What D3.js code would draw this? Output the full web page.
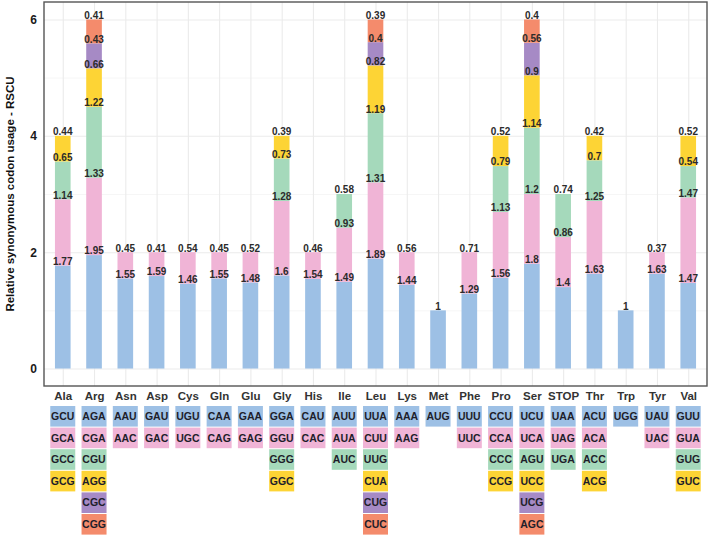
<!DOCTYPE html>
<html>
<head>
<meta charset="utf-8">
<script src="https://cdn.jsdelivr.net/npm/d3@7"></script>
<style>
  body { margin: 0; background: #fff; }
  text { font-family: "Liberation Sans", Arial, sans-serif; }
</style>
</head>
<body>
<div id="chart"></div>
<script>
const width = 709;
const height = 537;
const margin = { top: 2, right: 2, bottom: 151, left: 44 };

// amino acids, in axis order
const aminoAcids = ['Ala', 'Arg', 'Asn', 'Asp', 'Cys', 'Gln', 'Glu', 'Gly', 'His', 'Ile', 'Leu',
  'Lys', 'Met', 'Phe', 'Pro', 'Ser', 'STOP', 'Thr', 'Trp', 'Tyr', 'Val'];

// codons per amino acid, bottom of the stack first
const codons = [
  ['GCU', 'GCA', 'GCC', 'GCG'],
  ['AGA', 'CGA', 'CGU', 'AGG', 'CGC', 'CGG'],
  ['AAU', 'AAC'],
  ['GAU', 'GAC'],
  ['UGU', 'UGC'],
  ['CAA', 'CAG'],
  ['GAA', 'GAG'],
  ['GGA', 'GGU', 'GGG', 'GGC'],
  ['CAU', 'CAC'],
  ['AUU', 'AUA', 'AUC'],
  ['UUA', 'CUU', 'UUG', 'CUA', 'CUG', 'CUC'],
  ['AAA', 'AAG'],
  ['AUG'],
  ['UUU', 'UUC'],
  ['CCU', 'CCA', 'CCC', 'CCG'],
  ['UCU', 'UCA', 'AGU', 'UCC', 'UCG', 'AGC'],
  ['UAA', 'UAG', 'UGA'],
  ['ACU', 'ACA', 'ACC', 'ACG'],
  ['UGG'],
  ['UAU', 'UAC'],
  ['GUU', 'GUA', 'GUG', 'GUC']
];

// RSCU values, same order as codons
const rscu = [
  [1.77, 1.14, 0.65, 0.44],
  [1.95, 1.33, 1.22, 0.66, 0.43, 0.41],
  [1.55, 0.45],
  [1.59, 0.41],
  [1.46, 0.54],
  [1.55, 0.45],
  [1.48, 0.52],
  [1.6, 1.28, 0.73, 0.39],
  [1.54, 0.46],
  [1.49, 0.93, 0.58],
  [1.89, 1.31, 1.19, 0.82, 0.4, 0.39],
  [1.44, 0.56],
  [1],
  [1.29, 0.71],
  [1.56, 1.13, 0.79, 0.52],
  [1.8, 1.2, 1.14, 0.9, 0.56, 0.4],
  [1.4, 0.86, 0.74],
  [1.63, 1.25, 0.7, 0.42],
  [1],
  [1.63, 0.37],
  [1.47, 1.47, 0.54, 0.52]
];

const yTicks = [0, 2, 4, 6];
const colors = ['#9dc0e5', '#f0b4d6', '#a5d9bb', '#fdd435', '#a68ac5', '#f48b6c'];

const innerWidth = width - margin.left - margin.right;
const innerHeight = height - margin.top - margin.bottom;
const step = innerWidth / (aminoAcids.length - 1 + 1.2);
const barWidth = step * 0.5;
const boxWidth = 25;
const boxHeight = 20.6;
const boxPitch = 21.6;
const font = '"Liberation Sans", Arial, sans-serif';

const svg = d3.select('#chart').append('svg')
  .attr('width', width)
  .attr('height', height);

svg.append('rect').attr('width', width).attr('height', height).attr('fill', '#fff');

const g = svg.append('g').attr('transform', `translate(${margin.left}, ${margin.top})`);

const x = d3.scalePoint()
  .domain(aminoAcids)
  .range([0.6 * step, innerWidth - 0.6 * step]);

const y = d3.scaleLinear()
  .domain([-0.3, 6.3])
  .range([innerHeight, 0]);

// minor gridlines
g.append('g')
  .call(d3.axisLeft(y).tickValues([1, 3, 5]).tickSize(-innerWidth).tickFormat(''))
  .call(a => a.select('.domain').remove())
  .call(a => a.selectAll('line').attr('stroke', '#f4f4f4').attr('stroke-width', 0.8));

// major gridlines
g.append('g')
  .call(d3.axisLeft(y).tickValues(yTicks).tickSize(-innerWidth).tickFormat(''))
  .call(a => a.select('.domain').remove())
  .call(a => a.selectAll('line').attr('stroke', '#ebebeb').attr('stroke-width', 1.1));

g.append('g')
  .attr('transform', `translate(0, ${innerHeight})`)
  .call(d3.axisBottom(x).tickSize(-innerHeight).tickFormat(''))
  .call(a => a.select('.domain').remove())
  .call(a => a.selectAll('line').attr('stroke', '#ebebeb').attr('stroke-width', 1.1));

// stacked bars
const stacks = aminoAcids.map((aa, i) => {
  let cum = 0;
  return rscu[i].map((v, j) => {
    const seg = { aa, codon: codons[i][j], value: v, y0: cum, y1: cum + v, idx: j };
    cum += v;
    return seg;
  });
});

const segs = stacks.flat();

g.selectAll('.seg')
  .data(segs)
  .enter()
  .append('rect')
  .attr('class', 'seg')
  .attr('x', d => x(d.aa) - barWidth / 2)
  .attr('width', barWidth)
  .attr('y', d => y(d.y1))
  .attr('height', d => y(d.y0) - y(d.y1))
  .attr('fill', d => colors[d.idx]);

g.selectAll('.segLabel')
  .data(segs)
  .enter()
  .append('text')
  .attr('class', 'segLabel')
  .attr('x', d => x(d.aa))
  .attr('y', d => y(d.y1) - 0.6)
  .attr('text-anchor', 'middle')
  .attr('font-size', 10)
  .attr('font-weight', 'bold')
  .attr('fill', '#2b2b2b')
  .text(d => d.value);

// panel border
g.append('rect')
  .attr('width', innerWidth)
  .attr('height', innerHeight)
  .attr('fill', 'none')
  .attr('stroke', '#555')
  .attr('stroke-width', 1.4);

// y axis labels
g.append('g')
  .call(d3.axisLeft(y).tickValues(yTicks).tickSize(0).tickPadding(7).tickFormat(d3.format('d')))
  .call(a => a.select('.domain').remove())
  .call(a => a.selectAll('text')
    .attr('font-size', 12)
    .attr('font-weight', 'bold')
    .attr('fill', '#1a1a1a')
    .style('font-family', font));

svg.append('text')
  .attr('transform', `translate(14, ${margin.top + innerHeight / 2}) rotate(-90)`)
  .attr('text-anchor', 'middle')
  .attr('font-size', 11.5)
  .attr('font-weight', 'bold')
  .attr('fill', '#111')
  .text('Relative synonymous codon usage - RSCU');

// x axis labels
g.append('g')
  .attr('transform', `translate(0, ${innerHeight})`)
  .call(d3.axisBottom(x).tickSize(0).tickPadding(6))
  .call(a => a.select('.domain').remove())
  .call(a => a.selectAll('text')
    .attr('font-size', 11.5)
    .attr('font-weight', 'bold')
    .attr('fill', '#333')
    .style('font-family', font));

// codon boxes below the axis
const boxTop = 406 - margin.top;
const boxes = g.selectAll('.codonBox')
  .data(segs)
  .enter()
  .append('g')
  .attr('class', 'codonBox')
  .attr('transform', d => `translate(${x(d.aa)}, ${boxTop + d.idx * boxPitch})`);

boxes.append('rect')
  .attr('x', -boxWidth / 2)
  .attr('width', boxWidth)
  .attr('height', boxHeight)
  .attr('fill', d => colors[d.idx]);

boxes.append('text')
  .attr('y', boxHeight / 2 + 3.8)
  .attr('text-anchor', 'middle')
  .attr('font-size', 10.5)
  .attr('font-weight', 'bold')
  .attr('fill', '#1e1e2a')
  .text(d => d.codon);
</script>
</body>
</html>
